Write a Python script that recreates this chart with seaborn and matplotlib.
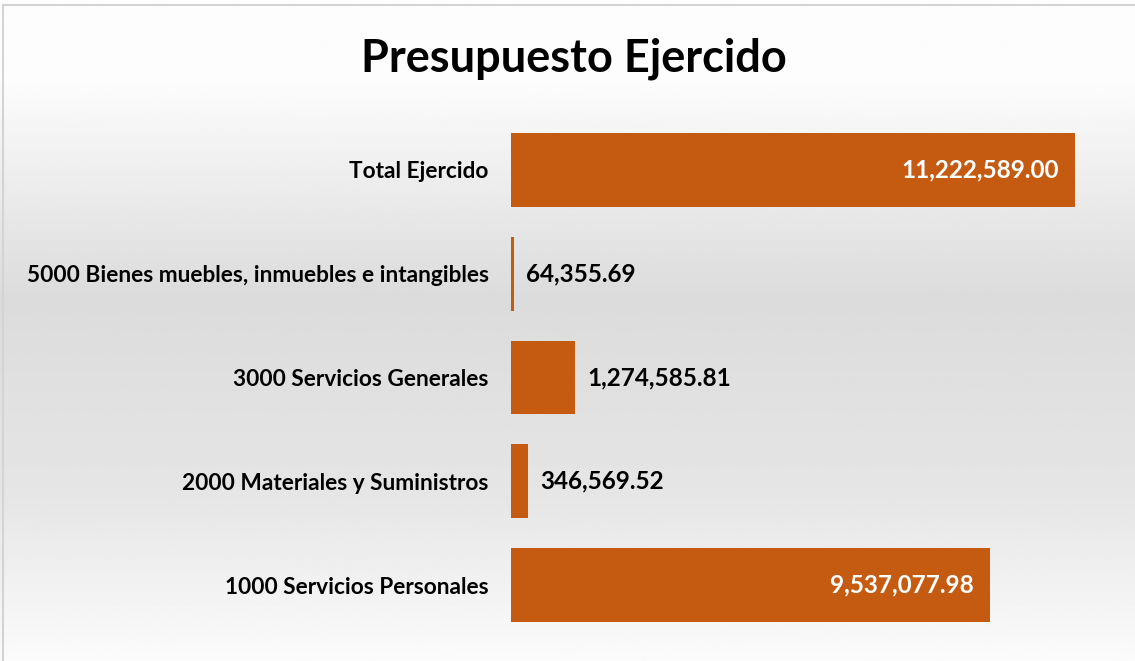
import numpy as np
import pandas as pd
import seaborn as sns
import matplotlib.pyplot as plt
from matplotlib.patches import Rectangle

categorias = ['Total Ejercido',
              '5000 Bienes muebles, inmuebles e intangibles',
              '3000 Servicios Generales',
              '2000 Materiales y Suministros',
              '1000 Servicios Personales']
montos = [11222589.00, 64355.69, 1274585.81, 346569.52, 9537077.98]

df = pd.DataFrame({'categoria': categorias, 'monto': montos})

sns.set_theme(style='white')
plt.rcParams['font.family'] = ['Lato', 'DejaVu Sans']
plt.rcParams['text.color'] = 'black'
plt.rcParams['ytick.color'] = 'black'

fig = plt.figure(figsize=(11.35, 6.61), dpi=100)

# background gradient (white -> gray -> white)
bg = fig.add_axes([0, 0, 1, 1], zorder=-10)
yy = np.linspace(0, 1, 300)
shade = np.interp(yy, [0, 0.12, 0.45, 0.75, 1], [0.99, 0.99, 0.86, 0.90, 0.985])
bg.imshow(np.tile(shade[:, None], (1, 2)), cmap='gray', vmin=0, vmax=1,
          aspect='auto', extent=[0, 1, 0, 1], origin='upper')
bg.set_axis_off()
fig.patches.append(Rectangle((0.003, -0.01), 1.1, 1.002, transform=fig.transFigure,
                             fill=False, edgecolor='#d4d4d4', linewidth=1.5))

ax = fig.add_axes([511 / 1135, 24 / 661, 604 / 1135, 519 / 661])
sns.barplot(data=df, y='categoria', x='monto', color='#C55A11', saturation=1,
            width=0.71, linewidth=0, ax=ax)
ax.patch.set_alpha(0)
ax.set_xlim(0, 12018515)
ax.set_xlabel('')
ax.set_ylabel('')
ax.set_xticks([])
ax.tick_params(axis='y', length=0, pad=16, labelsize=16.3)
for lab in ax.get_yticklabels():
    lab.set_fontweight('bold')
sns.despine(ax=ax, left=True, bottom=True)

for i, v in enumerate(montos):
    txt = f'{v:,.2f}'
    if v > 5e6:
        ax.text(v - 330000, i, txt, ha='right', va='center', color='white',
                fontsize=17.5, fontweight='bold')
    else:
        ax.text(v + 240000, i, txt, ha='left', va='center', color='black',
                fontsize=17.5, fontweight='bold')

fig.text(574 / 1135, 1 - 59 / 661, 'Presupuesto Ejercido', ha='center', va='center',
         fontsize=32.5, fontweight='bold', color='black')

fig.savefig('out.png', dpi=100)
